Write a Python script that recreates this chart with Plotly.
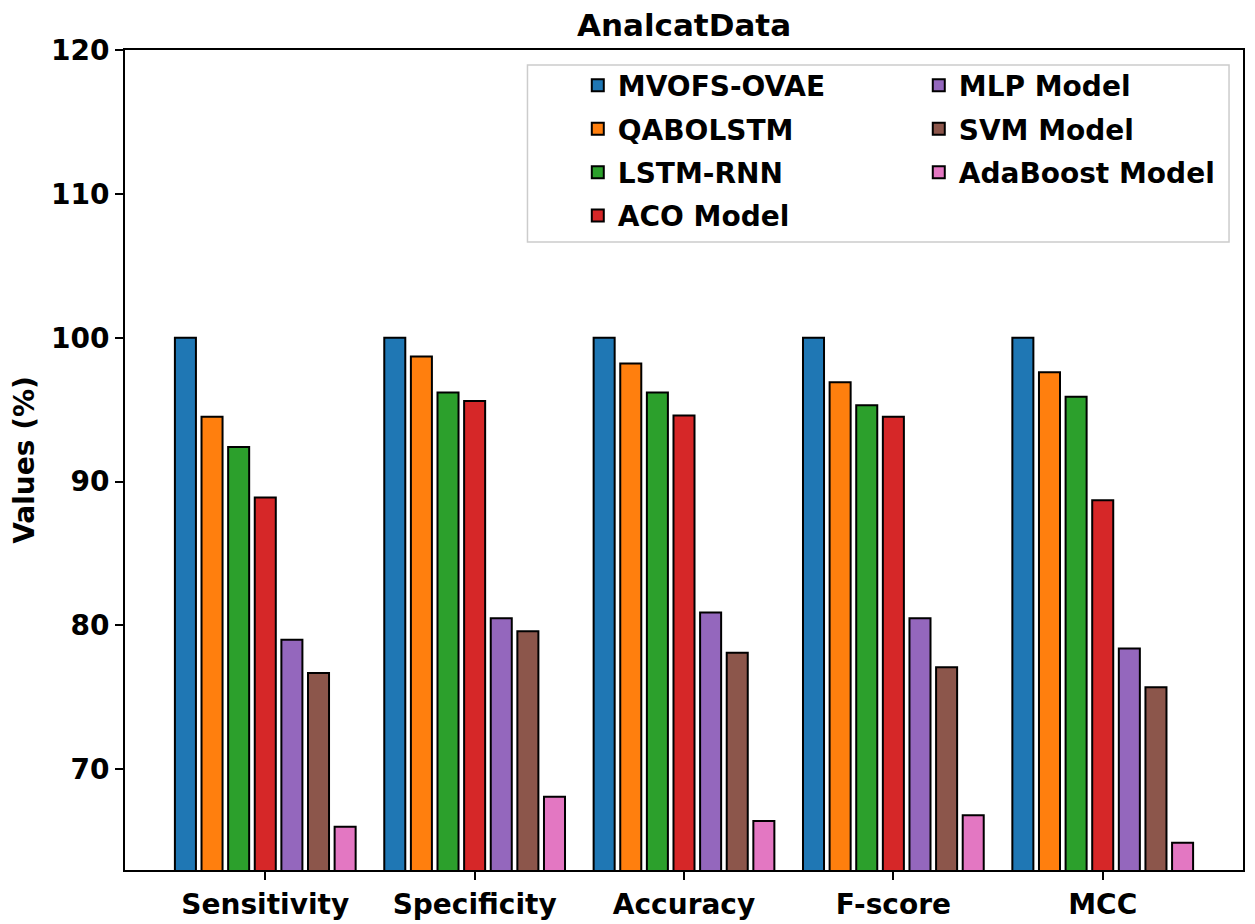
import plotly.graph_objects as go

categories = ["Sensitivity", "Specificity", "Accuracy", "F-score", "MCC"]
models = ["MVOFS-OVAE", "QABOLSTM", "LSTM-RNN", "ACO Model",
          "MLP Model", "SVM Model", "AdaBoost Model"]
mvofs_ovae = [100.0, 100.0, 100.0, 100.0, 100.0]
qabolstm = [94.5, 98.7, 98.2, 96.9, 97.6]
lstm_rnn = [92.4, 96.2, 96.2, 95.3, 95.9]
aco_model = [88.9, 95.6, 94.6, 94.5, 88.7]
mlp_model = [79.0, 80.5, 80.9, 80.5, 78.4]
svm_model = [76.7, 79.6, 78.1, 77.1, 75.7]
adaboost_model = [66.0, 68.1, 66.4, 66.8, 64.9]
series = [mvofs_ovae, qabolstm, lstm_rnn, aco_model, mlp_model, svm_model, adaboost_model]
colors = ["#1f77b4", "#ff7f0e", "#2ca02c", "#d62728", "#9467bd", "#8c564b", "#e377c2"]

FONT = "DejaVu Sans"

fig = go.Figure()
for i, (name, vals, col) in enumerate(zip(models, series, colors)):
    fig.add_trace(go.Bar(
        x=categories, y=vals, name=name,
        marker=dict(color=col, line=dict(color="black", width=2)),
        legend="legend" if i < 4 else "legend2",
        legendgroup=name,
    ))

legend_common = dict(
    bgcolor="rgba(0,0,0,0)", borderwidth=0,
    font=dict(family=FONT, size=28, color="black", weight="bold"),
    itemwidth=30, tracegroupgap=4, yanchor="top", xanchor="left",
)

fig.update_layout(
    width=1239, height=916,
    margin=dict(l=117, r=2, t=42, b=54),
    paper_bgcolor="white", plot_bgcolor="white",
    barmode="group", bargap=0.11, bargroupgap=0.21,
    title=dict(text="AnalcatData", x=0.5, xref="paper", y=1 - 17 / 916,
               yref="container", xanchor="center", yanchor="middle",
               font=dict(family=FONT, size=31, color="black", weight="bold")),
    legend=dict(x=0.405, y=0.987, **legend_common),
    legend2=dict(x=0.710, y=0.987, **legend_common),
    shapes=[dict(type="rect", xref="paper", yref="paper",
                 x0=0.360, x1=0.9875, y0=0.766, y1=0.9817,
                 line=dict(color="#cccccc", width=1.5), fillcolor="rgba(255,255,255,0.8)",
                 layer="below")],
)
fig.update_xaxes(
    range=[-0.67, 4.67], showline=True, linecolor="black", linewidth=2, mirror=True,
    ticks="outside", ticklen=8, tickwidth=2, tickcolor="black", showgrid=False,
    tickfont=dict(family=FONT, size=28, color="black", weight="bold"),
    automargin=False,
)
fig.update_yaxes(
    range=[63, 120], tickvals=[70, 80, 90, 100, 110, 120],
    showline=True, linecolor="black", linewidth=2, mirror=True,
    ticks="outside", ticklen=8, tickwidth=2, tickcolor="black", showgrid=False, zeroline=False,
    tickfont=dict(family=FONT, size=28, color="black", weight="bold"),
    title=dict(text="Values (%)", standoff=14,
               font=dict(family=FONT, size=28, color="black", weight="bold")),
)

fig.write_html("out.html")
